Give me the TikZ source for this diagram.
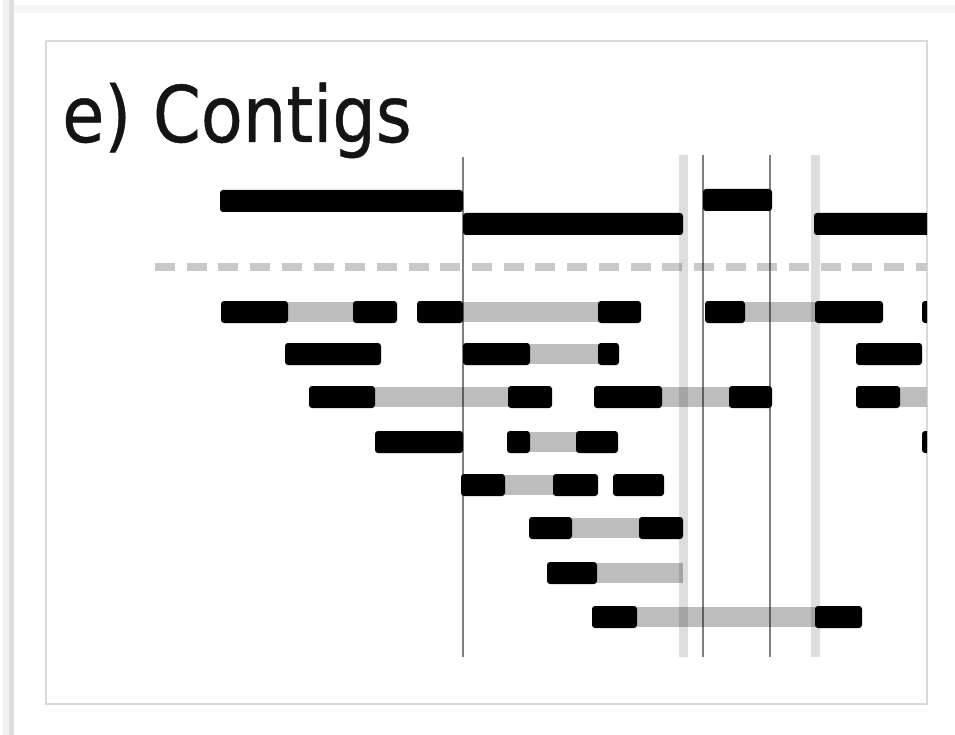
\documentclass[tikz,border=0pt]{standalone}
\usepackage{fontspec}
\newfontfamily\titlefont[FakeBold=0.6]{DejaVu Sans}
\begin{document}
\begin{tikzpicture}[x=1pt,y=-1pt,
  blk/.style={fill=black,rounded corners=3pt},
  gry/.style={fill=black!26},
  lightv/.style={draw=black,draw opacity=0.13,line width=9pt},
  darkv/.style={draw=black,draw opacity=0.5,line width=2.6pt},
  dashline/.style={draw=black!21,line width=8pt,dash pattern=on 20pt off 11.7pt},
  frameline/.style={draw=black!15,line width=1.5pt}]
\useasboundingbox (0,0) rectangle (955,735);
\fill[white] (0,0) rectangle (955,735);
% outer frame shadow
\fill[black!5] (3,0) rectangle (9,735);
\fill[black!13] (9,0) rectangle (14,735);
\fill[black!3] (14,5) rectangle (955,13);
% inner box
\draw[frameline] (46,41) rectangle (927,704);
% title
\node[anchor=base west,inner sep=0pt,text=black!92] (title) at (62,142)
  {\scalebox{0.88}[1]{\titlefont\fontsize{78}{90}\selectfont e) Contigs}};
\begin{scope}
\clip (46,41) rectangle (927,704);
% contigs
\foreach \a/\b/\y in {220/463/201, 463/683/224, 703/772/200, 814/960/224}
  \fill[blk] (\a,\y-11) rectangle (\b,\y+11);
% dashed reference
\draw[dashline] (155,267) -- (927,267);
% gray inserts
\foreach \a/\b/\y in {288/355/312, 463/600/312, 745/817/312,
  530/600/354,
  375/510/397, 662/731/397, 900/960/397,
  530/578/442,
  505/555/485,
  572/641/528,
  597/683/573,
  637/817/617}
  \fill[gry] (\a,\y-10) rectangle (\b,\y+10);
% black reads
\foreach \a/\b/\y in {221/288/312, 353/397/312, 417/463/312, 598/641/312, 705/745/312, 815/883/312, 922/980/312,
  285/381/354, 463/530/354, 598/619/354, 856/922/354,
  309/375/397, 508/552/397, 594/662/397, 729/772/397, 856/900/397,
  375/463/442, 507/530/442, 576/618/442, 922/980/442,
  461/505/485, 553/598/485, 613/664/485,
  529/572/528, 639/683/528,
  547/597/573,
  592/637/617, 815/862/617}
  \fill[blk] (\a,\y-11) rectangle (\b,\y+11);
% boundaries
\coordinate (t1) at (463,157); \coordinate (b1) at (463,657);
\coordinate (t2) at (683,155); \coordinate (b2) at (683,657);
\coordinate (t3) at (703,155); \coordinate (b3) at (703,657);
\coordinate (t4) at (770,155); \coordinate (b4) at (770,657);
\coordinate (t5) at (815,155); \coordinate (b5) at (815,657);
\draw[darkv] (t1) -- (b1);
\draw[lightv] (t2) -- (b2);
\draw[darkv] (t3) -- (b3);
\draw[darkv] (t4) -- (b4);
\draw[lightv] (t5) -- (b5);
\end{scope}
\end{tikzpicture}
\end{document}
